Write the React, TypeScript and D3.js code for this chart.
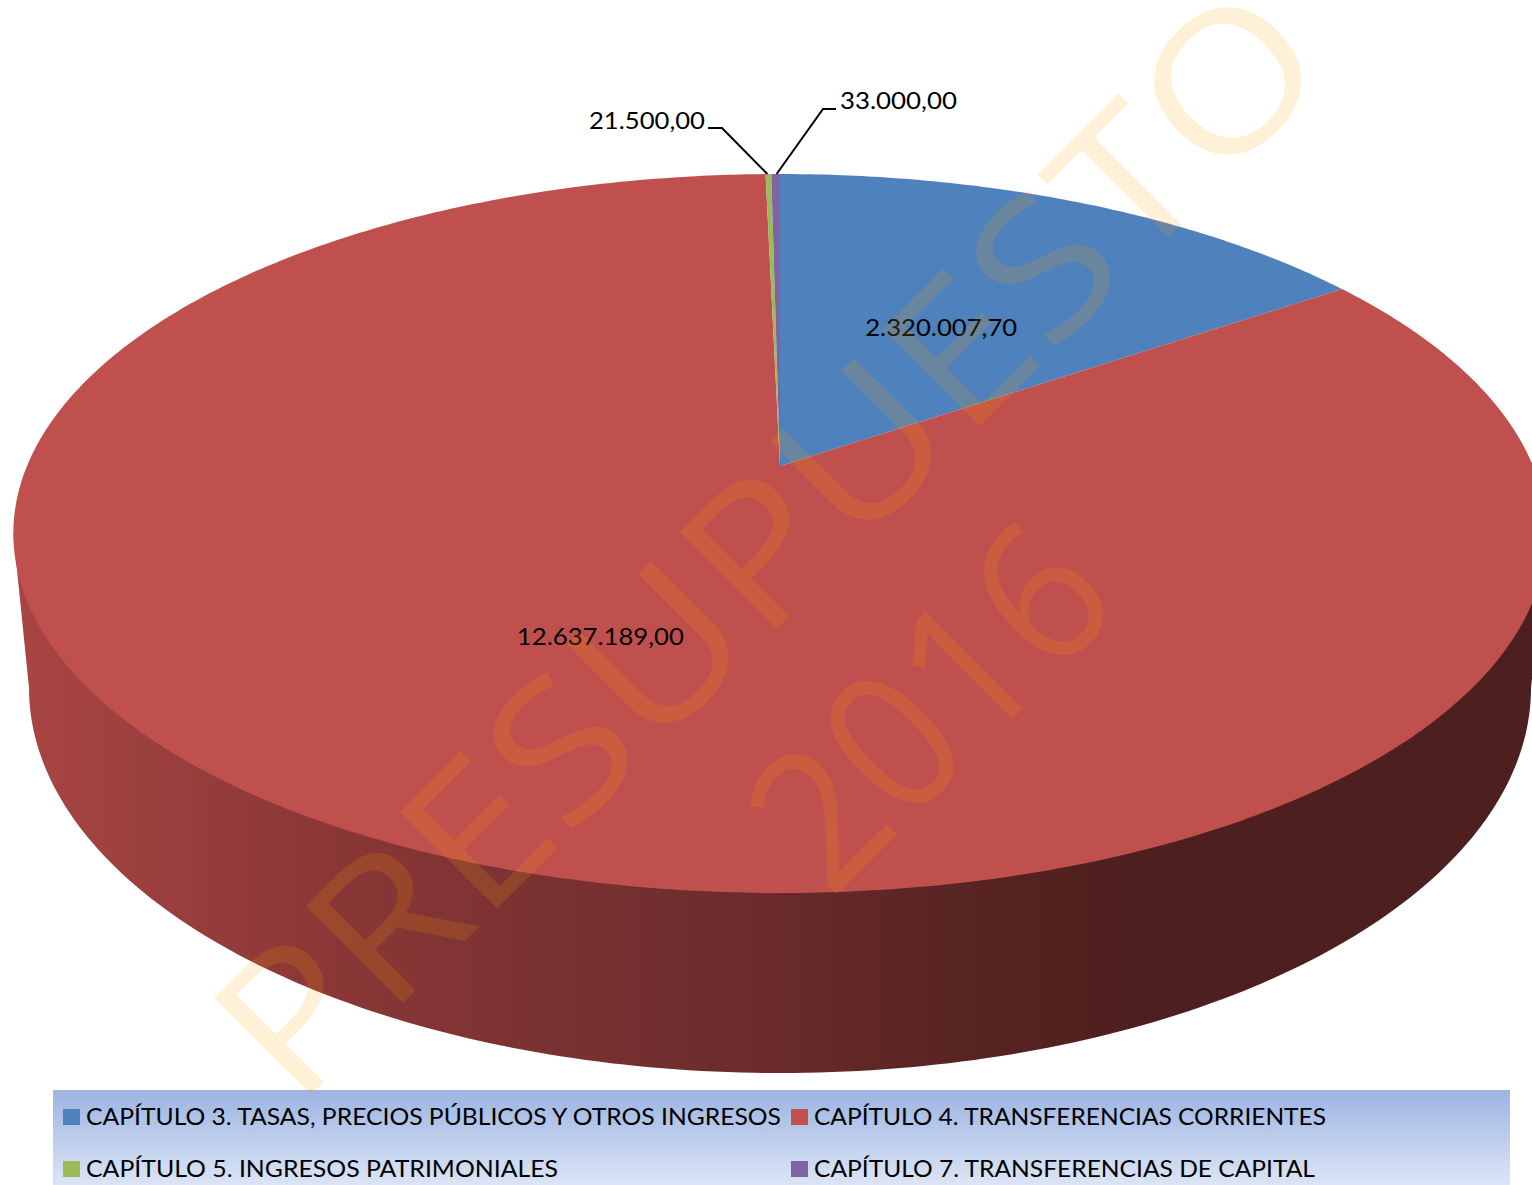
import * as d3 from "d3";
import React from "react";

const categories = [
  "CAPÍTULO 3. TASAS, PRECIOS PÚBLICOS Y OTROS INGRESOS",
  "CAPÍTULO 4. TRANSFERENCIAS CORRIENTES",
  "CAPÍTULO 5. INGRESOS PATRIMONIALES",
  "CAPÍTULO 7. TRANSFERENCIAS DE CAPITAL",
];
const values = [2320007.7, 12637189, 21500, 33000];
const colors = ["#4F81BD", "#C0504D", "#9BBB59", "#8064A2"];
const watermarkLines = ["PRESUPUESTO", "2016"];

const width = 1532;
const height = 1185;
const font = "Lato, Carlito, sans-serif";

// perspective of the disc, fitted to the picture
const cx = 780;
const apexY = 466;
const radiusX = 753;
const spreadY = 259.3;
const persp = 0.1878;

function project(angle: number, r: number): [number, number] {
  const w = 1 + persp * r * Math.cos(angle);
  return [
    cx + (radiusX * r * Math.sin(angle)) / w,
    (apexY - spreadY * r * Math.cos(angle)) / w,
  ];
}

const esLocale = d3.formatLocale({
  decimal: ",",
  thousands: ".",
  grouping: [3],
  currency: ["", " €"],
});
const fmt = esLocale.format(",.2f");

const pieData = d3.pie<number>().sort(null).startAngle(0).endAngle(2 * Math.PI)(values);
const line = d3.line();

function slicePath(a0: number, a1: number) {
  const steps = Math.max(2, Math.ceil((a1 - a0) / 0.01));
  const rim = d3.range(steps + 1).map((i) => project(a0 + ((a1 - a0) * i) / steps, 1));
  return line([project(0, 0), ...rim]) + "Z";
}

// lower rim of the side wall
const bottom = { cy: 688, rx: 751, ry: 385 };
const rimX = d3.scaleLinear().domain([-1, 1]).range([cx - bottom.rx, cx + bottom.rx]);
const sideEllipse = d3.range(0, 181).map((deg): [number, number] => {
  const a = (deg * Math.PI) / 180;
  return [rimX(Math.cos(a)), bottom.cy + bottom.ry * Math.sin(a)];
});
const topLeft = project(-Math.PI / 2 - 0.19, 1);
const topRight = project(Math.PI / 2 + 0.19, 1);
const sidePath = line([topRight, ...sideEllipse, topLeft]) + "Z";

const sideStops = [
  { x: 30, c: "#A84543" },
  { x: 200, c: "#963D3C" },
  { x: 300, c: "#8C3837" },
  { x: 600, c: "#763030" },
  { x: 780, c: "#692B2A" },
  { x: 930, c: "#5A2524" },
  { x: 1130, c: "#4D1F1E" },
];

// in-slice labels sit on the mid angle, leaders go out from the rim
const labelPlace = [
  { r: 0.49, dx: 2, dy: 0, w: 152 },
  { r: 0.505, dx: 10, dy: 0, w: 167 },
];
const leaders = [
  { i: 2, elbow: [722, 128], end: [708, 128], tx: 705, ty: 129, anchor: "end", w: 116 },
  { i: 3, elbow: [823, 109], end: [836, 109], tx: 840, ty: 109, anchor: "start", w: 117 },
];

const legendLayout = [
  { x: 63, y: 1109, w: 695 },
  { x: 791, y: 1109, w: 512 },
  { x: 63, y: 1161, w: 472 },
  { x: 791, y: 1161, w: 501 },
];

const watermarkPlace = [
  { u: -575, v: 994, w: 1470 },
  { u: -50, v: 1224, w: 416 },
];

export default function App() {
  return (
    <svg
      width={width}
      height={height}
      viewBox={`0 0 ${width} ${height}`}
      style={{ position: "absolute", left: 0, top: 0, display: "block", background: "#fff" }}
      fontFamily={font}
    >
      <defs>
        <linearGradient id="side" gradientUnits="userSpaceOnUse" x1="0" x2={width} y1="0" y2="0">
          {sideStops.map((s) => (
            <stop key={s.x} offset={s.x / width} stopColor={s.c} />
          ))}
        </linearGradient>
        <linearGradient id="legendBg" x1="0" x2="0" y1="0" y2="1">
          <stop offset="0" stopColor="#9CB4E2" />
          <stop offset="1" stopColor="#DCE5F5" />
        </linearGradient>
      </defs>

      <path d={sidePath} fill="url(#side)" />
      {pieData.map((d, i) => (
        <path key={i} d={slicePath(d.startAngle, d.endAngle)} fill={colors[i]} />
      ))}

      {leaders.map((l) => {
        const d = pieData[l.i];
        const p = project((d.startAngle + d.endAngle) / 2, 1);
        return (
          <g key={l.i}>
            <path
              d={line([l.end as [number, number], l.elbow as [number, number], [p[0] + (l.i === 2 ? -1 : 1), p[1]]]) || ""}
              fill="none"
              stroke="#000"
              strokeWidth="2"
            />
            <text
              x={l.tx}
              y={l.ty}
              textAnchor={l.anchor}
              fontSize="23.5"
              textLength={l.w}
              lengthAdjust="spacingAndGlyphs"
            >
              {fmt(values[l.i])}
            </text>
          </g>
        );
      })}
      {labelPlace.map((l, i) => {
        const d = pieData[i];
        const p = project((d.startAngle + d.endAngle) / 2, l.r);
        return (
          <text
            key={i}
            x={p[0] + l.dx - l.w / 2}
            y={p[1] + l.dy + 9}
            fontSize="23.5"
            textLength={l.w}
            lengthAdjust="spacingAndGlyphs"
          >
            {fmt(values[i])}
          </text>
        );
      })}

      <rect x="53" y="1090" width="1457" height="95" fill="url(#legendBg)" />
      {categories.map((c, i) => {
        const l = legendLayout[i];
        return (
          <g key={c}>
            <rect x={l.x} y={l.y} width="17" height="16" fill={colors[i]} />
            <text
              x={l.x + 23}
              y={l.y + 16}
              fontSize="23.5"
              textLength={l.w}
              lengthAdjust="spacingAndGlyphs"
            >
              {c}
            </text>
          </g>
        );
      })}

      {watermarkLines.map((t, i) => {
        const m = watermarkPlace[i];
        return (
          <text
            key={t}
            transform={`rotate(-45) translate(${m.u},${m.v})`}
            fontFamily="'Open Sans', sans-serif"
            fontSize="192"
            fill="#FFA500"
            fillOpacity="0.155"
            textLength={m.w}
            lengthAdjust="spacingAndGlyphs"
          >
            {t}
          </text>
        );
      })}
    </svg>
  );
}
